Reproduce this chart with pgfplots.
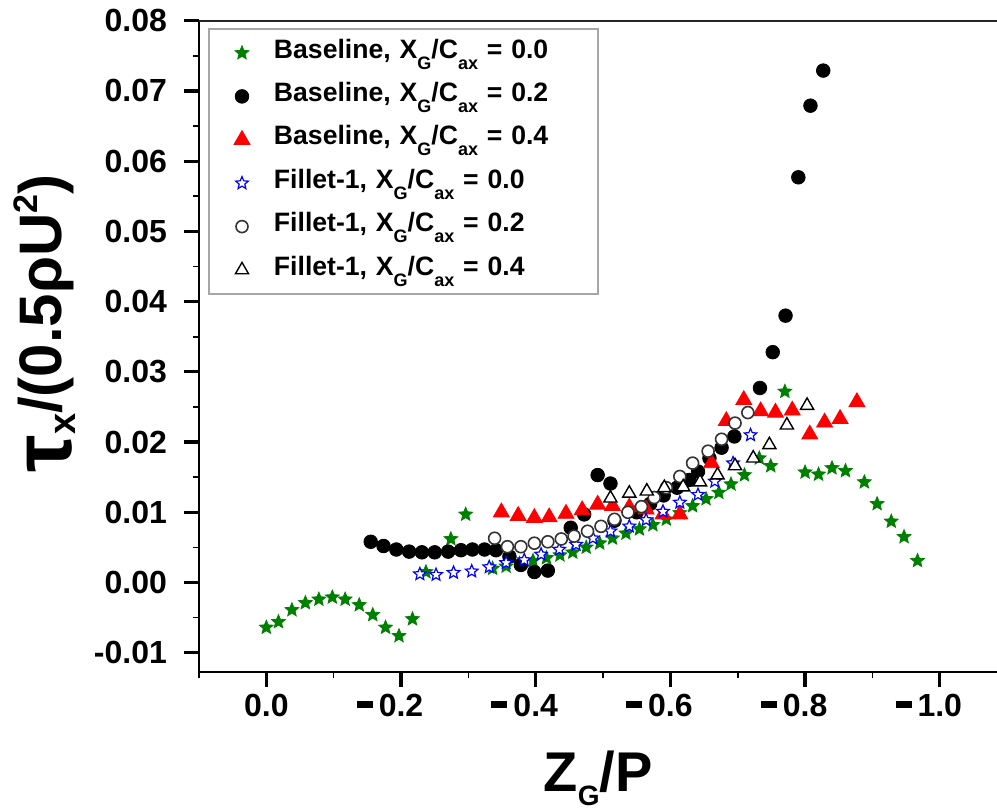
\documentclass[border=0pt]{standalone}
\usepackage{fontspec}
\setmainfont{Liberation Sans}
\usepackage{pgfplots}
\pgfplotsset{compat=1.18}
\newcommand{\negl}{\makebox[0pt][r]{\rule[4.3pt]{8pt}{3.5pt}\hspace{3pt}}}
\newcommand{\XC}{X\raisebox{-5.5pt}{\fontsize{9}{9}\selectfont G}/C\raisebox{-5.5pt}{\fontsize{9}{9}\selectfont ax}}
\pgfdeclareplotmark{fivestar}{%
  \pgfpathmoveto{\pgfpointpolar{90}{\pgfplotmarksize}}%
  \pgfpathlineto{\pgfpointpolar{126}{0.45\pgfplotmarksize}}%
  \pgfpathlineto{\pgfpointpolar{162}{\pgfplotmarksize}}%
  \pgfpathlineto{\pgfpointpolar{198}{0.45\pgfplotmarksize}}%
  \pgfpathlineto{\pgfpointpolar{234}{\pgfplotmarksize}}%
  \pgfpathlineto{\pgfpointpolar{270}{0.45\pgfplotmarksize}}%
  \pgfpathlineto{\pgfpointpolar{306}{\pgfplotmarksize}}%
  \pgfpathlineto{\pgfpointpolar{342}{0.45\pgfplotmarksize}}%
  \pgfpathlineto{\pgfpointpolar{18}{\pgfplotmarksize}}%
  \pgfpathlineto{\pgfpointpolar{54}{0.45\pgfplotmarksize}}%
  \pgfpathclose
  \pgfusepathqfillstroke
}
\definecolor{sgreen}{RGB}{0,128,0}
\pgfplotsset{fixleg/.style={legend image code/.code={\path[draw=none,fill=none] (0pt,0pt) (16pt,0pt); \draw[##1] plot coordinates {(8pt,0pt)};}}}
\begin{document}
\begin{tikzpicture}
\begin{axis}[
  scale only axis, width=399pt, height=325.5pt,
  xmin=-0.1, xmax=1.085, ymin=-0.0127, ymax=0.08,
  axis lines*=left,
  axis line style={line width=1pt},
  tick align=outside,
  scaled y ticks=false, scaled x ticks=false,
  xtick={0,0.2,0.4,0.6,0.8,1.0},
  xticklabels={0.0,\negl0.2,\negl0.4,\negl0.6,\negl0.8,\negl1.0},
  minor xtick={-0.1,0.1,0.3,0.5,0.7,0.9},
  ytick={-0.01,0,0.01,0.02,0.03,0.04,0.05,0.06,0.07,0.08},
  yticklabels={-0.01,0.00,0.01,0.02,0.03,0.04,0.05,0.06,0.07,0.08},
  minor ytick={-0.005,0.005,0.015,0.025,0.035,0.045,0.055,0.065,0.075},
  major tick length=7.5pt, minor tick length=3pt,
  major tick style={line width=1.6pt, black},
  minor tick style={line width=0.8pt, black},
  ticklabel style={font=\fontsize{16}{16}\selectfont\bfseries},
  yticklabel style={xshift=-5pt},
  xlabel={\fontsize{28}{32}\selectfont\bfseries Z\raisebox{-7pt}{\fontsize{14}{14}\selectfont G}/P},
  xlabel style={at={(axis description cs:0.5,0)}, anchor=base, yshift=-60pt},
  ylabel={\fontsize{30}{34}\selectfont\bfseries\raisebox{-5pt}{\fontsize{42}{42}\selectfont τ}\raisebox{-7pt}{\fontsize{19}{19}\selectfont x}/(0.5ρU\raisebox{12pt}{\fontsize{17}{17}\selectfont 2})},
  ylabel style={at={(axis description cs:-0.172,0.535)}, anchor=base},
  legend cell align=left,
  legend style={at={(axis description cs:0,1)}, anchor=north west, xshift=4.5pt, yshift=-3.65pt,
    draw=gray!70, line width=1pt, inner xsep=8.5pt, inner ysep=4.5pt, row sep=6.7pt, column sep=8pt,
    font=\fontsize{13.3}{15}\selectfont\bfseries,
    nodes={inner sep=0pt, text width=153.5pt, align=left, text height=10pt, text depth=5pt}},
]
\draw[line width=1pt, black!85] (rel axis cs:0,1) -- (rel axis cs:1,1);

\addplot[only marks, fixleg, mark=fivestar, mark size=3.6pt, mark options={fill=sgreen, draw=sgreen, line width=0.4pt}] coordinates {
(0.000,-0.0064) (0.018,-0.0056) (0.038,-0.0039) (0.058,-0.0029) (0.078,-0.0024) (0.098,-0.0021)
(0.117,-0.0024) (0.138,-0.0032) (0.158,-0.0046) (0.177,-0.0064) (0.197,-0.0076) (0.217,-0.0052)
(0.237,0.0015) (0.274,0.0062) (0.296,0.0097) (0.336,0.0020) (0.356,0.0023) (0.376,0.0027)
(0.396,0.0031) (0.416,0.0035) (0.436,0.0039) (0.455,0.0043) (0.475,0.0050) (0.495,0.0056)
(0.514,0.0063) (0.534,0.0070) (0.554,0.0076) (0.574,0.0082) (0.594,0.0090) (0.614,0.0099)
(0.633,0.0109) (0.653,0.0119) (0.672,0.0128) (0.690,0.0140) (0.710,0.0153) (0.732,0.0177)
(0.749,0.0166) (0.770,0.0272) (0.800,0.0157) (0.820,0.0154) (0.840,0.0163) (0.860,0.0159)
(0.888,0.0143) (0.907,0.0112) (0.928,0.0087) (0.947,0.0065) (0.967,0.0031)};
\addlegendentry{Baseline, \XC{} = 0.0}

\addplot[only marks, fixleg, mark=*, mark size=3.4pt, mark options={fill=black, draw=black, line width=0.4pt}] coordinates {
(0.155,0.0058) (0.174,0.0052) (0.193,0.0047) (0.212,0.0044) (0.231,0.0043) (0.250,0.0043)
(0.270,0.0044) (0.289,0.0046) (0.306,0.0047) (0.324,0.0047) (0.341,0.0046) (0.361,0.0037)
(0.378,0.0025) (0.398,0.0015) (0.418,0.0017) (0.452,0.0078) (0.472,0.0097) (0.492,0.0153)
(0.511,0.0141) (0.517,0.0088) (0.550,0.0100) (0.570,0.0112) (0.590,0.0124) (0.610,0.0135)
(0.628,0.0146) (0.641,0.0158) (0.658,0.0177) (0.676,0.0192) (0.695,0.0208) (0.733,0.0277)
(0.752,0.0328) (0.771,0.0380) (0.790,0.0577) (0.808,0.0679) (0.827,0.0729)};
\addlegendentry{Baseline, \XC{} = 0.2}

\addplot[only marks, fixleg, mark=triangle*, mark size=4.6pt, mark options={fill=red, draw=red, line width=0.4pt}] coordinates {
(0.349,0.0100) (0.374,0.0095) (0.398,0.0092) (0.420,0.0093) (0.445,0.0098) (0.469,0.0103)
(0.492,0.0111) (0.514,0.0109) (0.539,0.0107) (0.564,0.0104) (0.589,0.0097) (0.614,0.0097)
(0.661,0.0170) (0.683,0.0230) (0.709,0.0260) (0.734,0.0244) (0.756,0.0242) (0.781,0.0245)
(0.807,0.0211) (0.829,0.0228) (0.852,0.0233) (0.877,0.0257)};
\addlegendentry{Baseline, \XC{} = 0.4}

\addplot[only marks, fixleg, mark=fivestar, mark size=3.3pt, mark options={fill=white, draw=blue, line width=0.6pt}] coordinates {
(0.228,0.0012) (0.252,0.0011) (0.278,0.0014) (0.305,0.0016) (0.331,0.0022) (0.356,0.0028)
(0.383,0.0032) (0.408,0.0040) (0.435,0.0047) (0.460,0.0054) (0.485,0.0063) (0.511,0.0073)
(0.539,0.0080) (0.564,0.0089) (0.589,0.0101) (0.614,0.0114) (0.641,0.0125) (0.666,0.0144)
(0.693,0.0170) (0.719,0.0210)};
\addlegendentry{Fillet-1, \XC{} = 0.0}

\addplot[only marks, fixleg, mark=*, mark size=3pt, mark options={fill=white, draw=black!80, line width=0.8pt}] coordinates {
(0.339,0.0063) (0.358,0.0051) (0.378,0.0051) (0.398,0.0056) (0.418,0.0058) (0.438,0.0062)
(0.457,0.0066) (0.477,0.0073) (0.497,0.0080) (0.517,0.0090) (0.537,0.0100) (0.557,0.0108)
(0.576,0.0121) (0.594,0.0135) (0.614,0.0151) (0.633,0.0170) (0.656,0.0187) (0.676,0.0204)
(0.696,0.0227) (0.715,0.0242)};
\addlegendentry{Fillet-1, \XC{} = 0.2}

\addplot[only marks, fixleg, mark=triangle*, mark size=3.8pt, mark options={fill=white, draw=black, line width=0.7pt}] coordinates {
(0.511,0.0120) (0.539,0.0127) (0.565,0.0130) (0.591,0.0135) (0.619,0.0136) (0.644,0.0143)
(0.670,0.0153) (0.696,0.0166) (0.723,0.0177) (0.747,0.0196) (0.773,0.0224) (0.803,0.0252)};
\addlegendentry{Fillet-1, \XC{} = 0.4}
\end{axis}
\pgfresetboundingbox
\useasboundingbox ([xshift=-99.5pt,yshift=-69.65pt]current axis.south west) rectangle ([yshift=10.35pt]current axis.north east);
\end{tikzpicture}
\end{document}
